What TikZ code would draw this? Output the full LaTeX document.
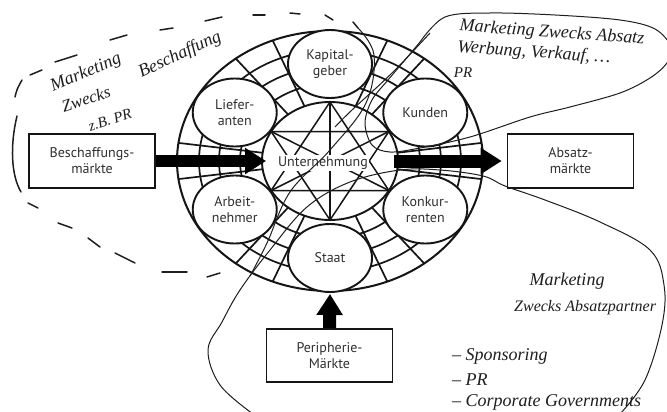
\documentclass[tikz,border=0pt]{standalone}
\usepackage{fontspec}
\newfontfamily\labelfont{PT Sans}
\newfontfamily\penfont{Liberation Serif}
\usetikzlibrary{shapes.geometric,arrows.meta}

\definecolor{ink}{HTML}{151515}
\definecolor{textgray}{HTML}{303030}
\definecolor{pen}{HTML}{1E1E1E}

\begin{document}
\begin{tikzpicture}[x=1pt,y=-1pt,
  ring/.style={draw=ink, line width=1.7pt},
  starline/.style={draw=ink, line width=1.5pt},
  party/.style={ellipse, draw=ink, line width=1.9pt, fill=white,
    minimum width=84pt, minimum height=68pt, inner sep=0pt,
    font=\labelfont\fontsize{14}{15.5}\selectfont, text=textgray, align=center},
  market/.style={rectangle, draw=ink, line width=1.6pt, fill=white,
    minimum width=126pt, minimum height=54pt, inner sep=0pt,
    font=\labelfont\fontsize{14}{16}\selectfont, text=textgray, align=center},
  flow/.style={draw=black, -{Triangle[length=21pt,width=25pt]}},
  hand/.style={text=pen, inner sep=0pt, font=\penfont\itshape\fontsize{18}{20}\selectfont},
  pencurve/.style={draw=pen, line width=1pt},
  pendash/.style={draw=pen, line width=1.5pt, line cap=round},
]
\fill[white] (0,0) rectangle (667,412);
\useasboundingbox (0,0) rectangle (667,412);

% ---- the firm and its stakeholders ----
\begin{scope}[shift={(330,161)}]
  % outer ring and the concentric rings
  \draw[ring, line width=2pt] (0,0) ellipse [x radius=153pt, y radius=130pt];
  \draw[ring] (0,0) ellipse [x radius=131pt, y radius=111pt];
  \draw[ring] (0,0) ellipse [x radius=111pt, y radius=94pt];
  \draw[ring] (0,0) ellipse [x radius=90pt, y radius=77pt];
  % radial rungs in the gaps between the stakeholders
  \foreach \g in {0,60,...,300}
    \foreach \d in {-8,8}
      \draw[ring] (\g+\d:68pt and 59pt) -- (\g+\d:153pt and 130pt);

  % central body
  \node[ellipse, draw=ink, line width=1.9pt, fill=white,
        minimum width=136pt, minimum height=118pt, inner sep=0pt] (unt) at (0,0) {};
  \foreach \a in {30,90,150,210,270,330}
    \coordinate (s\a) at (\a:68pt and 59pt);
  \draw[starline] (s90) -- (s210) -- (s330) -- cycle;
  \draw[starline] (s270) -- (s150) -- (s30) -- cycle;
  \draw[starline] (s90) -- (s270);
  \draw[starline] (s150) -- (s330);
  \draw[starline] (s30) -- (s210);
  \node[fill=white, inner sep=1.5pt, text=textgray,
        font=\labelfont\fontsize{14}{16}\selectfont] (untlabel) at (-7,2) {Unternehmung};

  % stakeholders
  \node[party] (kap)  at (90:110pt and 97pt)  {Kapital-\\geber};
  \node[party] (kun)  at (30:110pt and 97pt)  {Kunden};
  \node[party] (lie)  at (150:110pt and 97pt) {Liefer-\\anten};
  \node[party] (arb)  at (210:110pt and 97pt) {Arbeit-\\nehmer};
  \node[party] (kon)  at (330:110pt and 97pt) {Konkur-\\renten};
  \node[party] (sta)  at (270:110pt and 97pt) {Staat};
\end{scope}

% ---- markets ----
\node[market] (besch)  at (92,161)    {Beschaffungs-\\märkte};
\node[market] (absatz) at (570.5,161) {Absatz-\\märkte};
\node[market, minimum height=53pt] (peri) at (329.5,355.5) {Peripherie-\\Märkte};

\draw[flow, line width=12pt, shorten >=-5pt] (besch.east) -- (unt.west);
\draw[flow, line width=13pt, shorten <=-5pt, shorten >=5pt] (unt.east) -- (absatz.west);
\draw[flow, line width=13pt, shorten >=1pt] (peri.north) -- (sta.south);

% ---- pen notes: procurement marketing ----
\draw[pendash] (15,97) .. controls (17,89) .. (22,80);
\draw[pendash] (30,75) -- (42,70);
\draw[pendash] (55,62) -- (77,55);
\draw[pendash] (110,40) -- (127,35);
\draw[pendash] (160,30) -- (173,28);
\draw[pendash] (205,21) -- (222,17);
\draw[pendash] (253,15) -- (265,15);
\draw[pendash] (290,13) -- (300,14);
\draw[pendash] (325,15) -- (333,20);
\draw[pendash] (353,22) -- (358,28);
\draw[pendash] (17,116) .. controls (10,145) and (11,175) .. (21,192);
\draw[pendash] (28,203) -- (38,208);
\draw[pendash] (58,223) -- (72,228);
\draw[pendash] (88,238) -- (100,247);
\draw[pendash] (115,253) -- (135,263);
\draw[pendash] (162,272) -- (187,272);
\draw[pendash] (207,277) -- (220,273);
\draw[pencurve] plot[smooth, tension=0.6] coordinates
  {(358,28) (374,55) (366,103) (330,150) (290,192) (267,243) (250,276)};

\node[hand, rotate=23] (n1) at (86,73) {Marketing};
\node[hand, rotate=18, font=\penfont\itshape\fontsize{17}{19}\selectfont] (n2) at (86,99) {Zwecks};
\node[hand, rotate=18, font=\penfont\itshape\fontsize{15}{17}\selectfont] (n3) at (110,120) {z.B. PR};
\node[hand, rotate=25] (n4) at (180,55) {Beschaffung};

% ---- pen notes: sales marketing ----
\draw[pencurve] plot[smooth, tension=0.55] coordinates
  {(420,42) (445,17) (490,13) (555,15) (620,20) (655,29) (672,48)
   (667,63) (650,78) (620,93) (570,107) (530,117) (470,137) (420,148)
   (390,152) (372,145) (365,123) (372,100) (388,80) (405,60) (420,42)};
\draw[pencurve] plot[smooth, tension=0.6] coordinates
  {(430,33) (392,73) (352,110) (335,127)};

\node[hand, rotate=-4] (n5) at (552,33) {Marketing Zwecks Absatz};
\node[hand, rotate=-4] (n6) at (534,53) {Werbung, Verkauf, \dots};
\node[hand, font=\penfont\itshape\fontsize{15}{17}\selectfont] (n7) at (463,73) {PR};

% ---- pen notes: peripheral marketing ----
\draw[pencurve] plot[smooth, tension=0.6] coordinates
  {(620,414) (645,380) (662,325) (664,285) (650,250) (600,222) (545,200)
   (505,186) (483,176) (440,170) (400,170) (350,182) (307,207) (270,250)
   (240,290) (222,322) (208,350) (220,385) (253,414)};

\node[hand] (n8) at (567,281) {Marketing};
\node[hand, anchor=base west, font=\penfont\itshape\fontsize{16}{18}\selectfont] (n9) at (514,311) {Zwecks Absatzpartner};
\node[hand, anchor=base west] (n10) at (452,360) {– Sponsoring};
\node[hand, anchor=base west] (n11) at (452,385) {– PR};
\node[hand, anchor=base west] (n12) at (452,406) {– Corporate Governments};
\end{tikzpicture}
\end{document}
